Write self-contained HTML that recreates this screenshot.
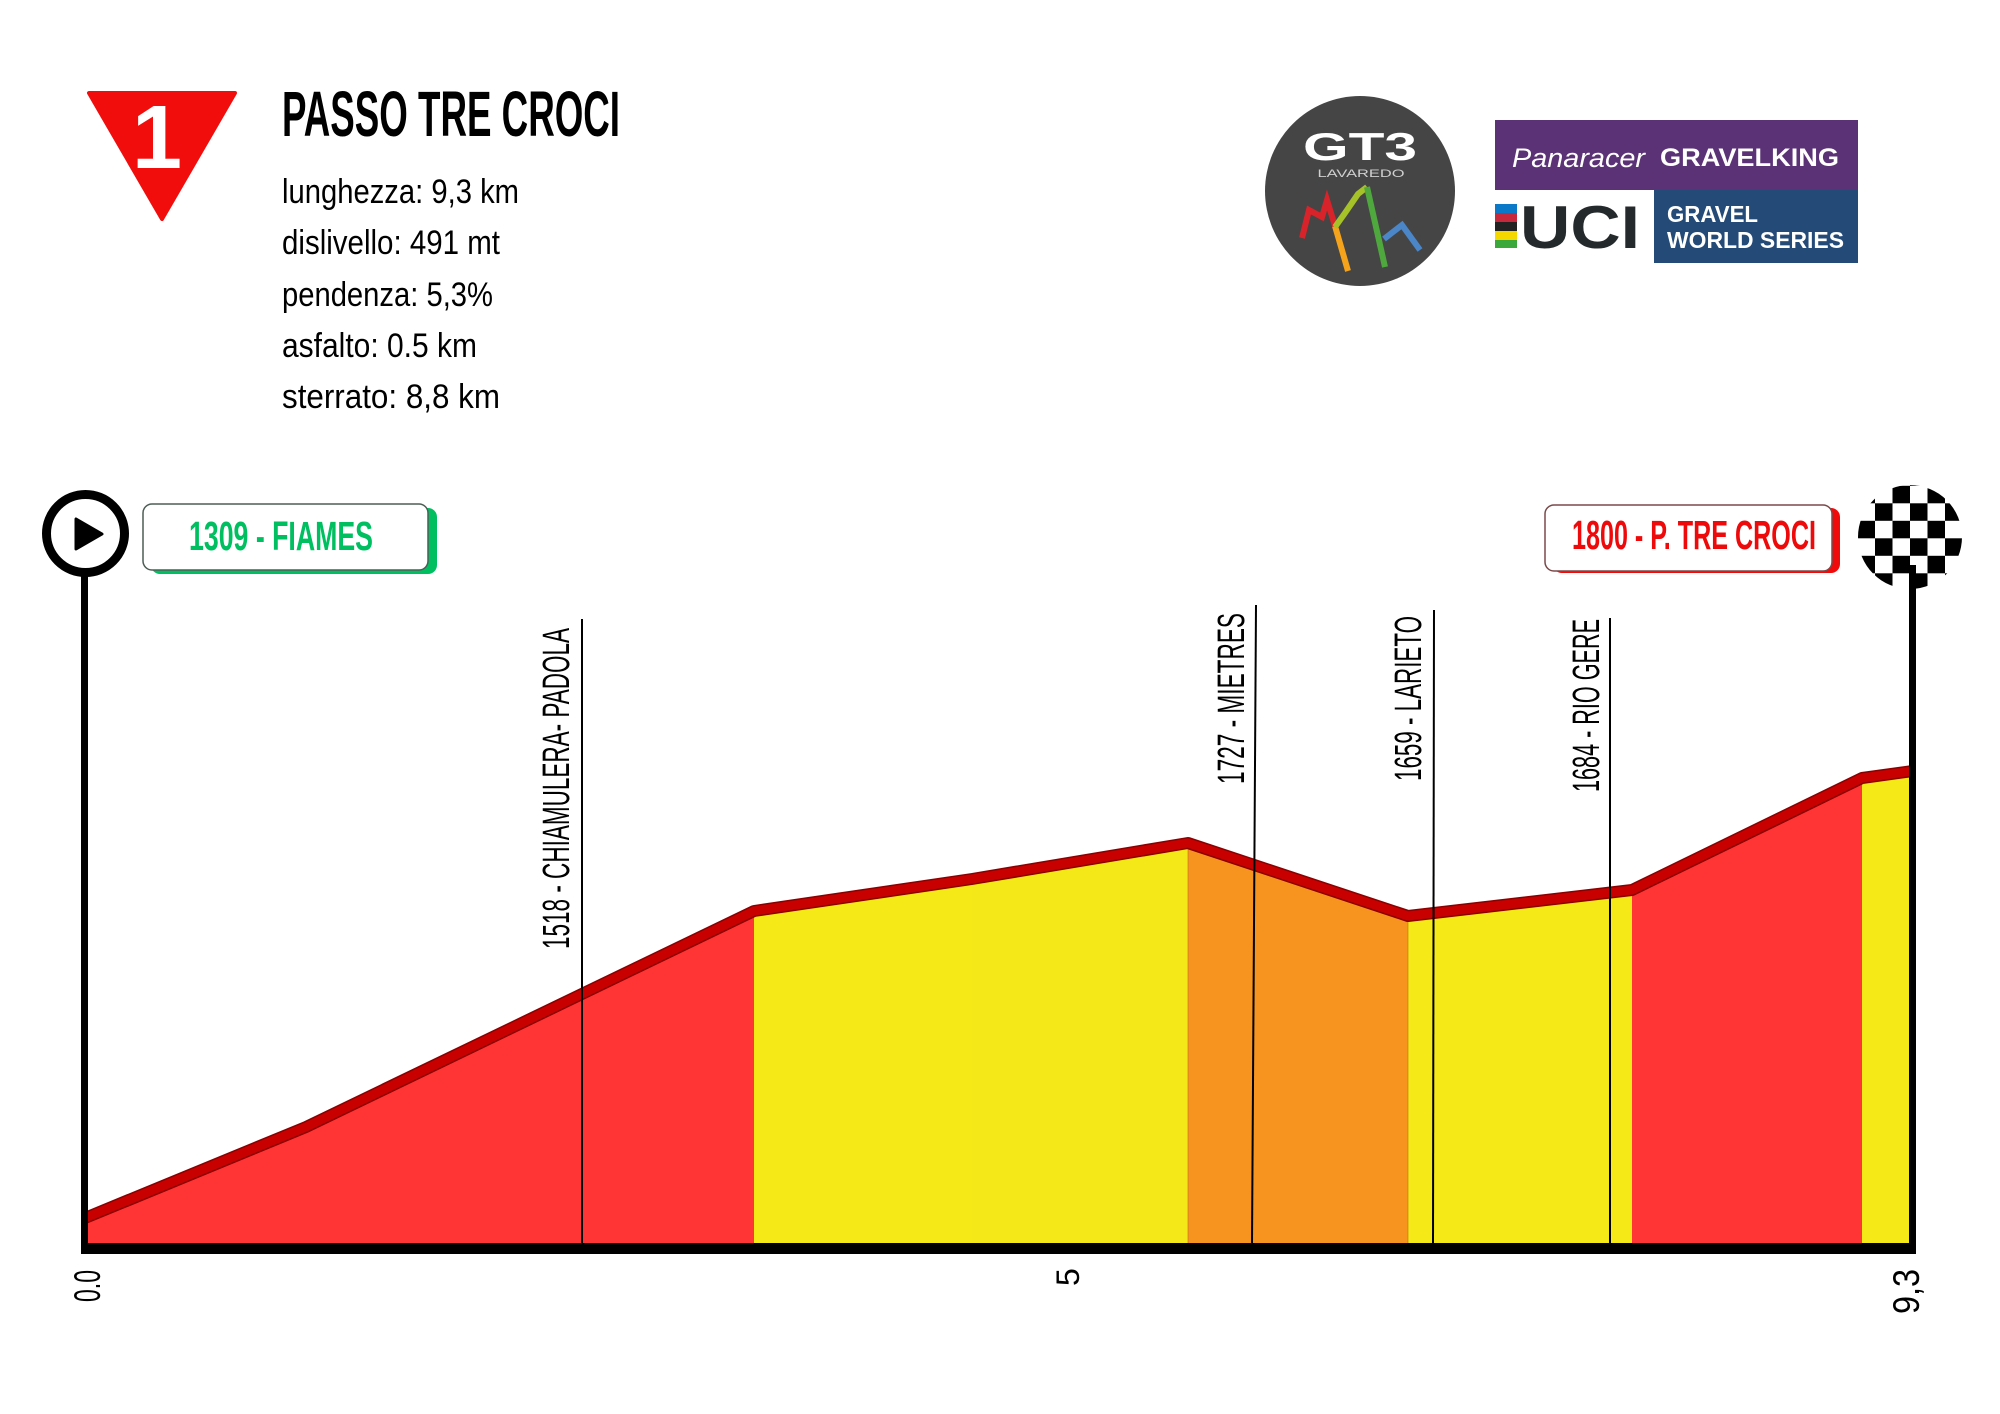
<!DOCTYPE html>
<html>
<head>
<meta charset="utf-8">
<style>
html,body{margin:0;padding:0;background:#fff;}
svg{display:block;}
text{font-family:"Liberation Sans Narrow","Liberation Sans",sans-serif;}
</style>
</head>
<body>
<svg width="2000" height="1414" viewBox="0 0 2000 1414" xmlns="http://www.w3.org/2000/svg">
<defs>
  <pattern id="chk" patternUnits="userSpaceOnUse" x="1875" y="503.3" width="35" height="35">
    <rect x="0" y="0" width="35" height="35" fill="#fff"/>
    <rect x="0" y="0" width="17.5" height="17.5" fill="#000"/>
    <rect x="17.5" y="17.5" width="17.5" height="17.5" fill="#000"/>
  </pattern>
  <clipPath id="cc"><circle cx="1910" cy="537" r="52"/></clipPath>
</defs>

<!-- Title block -->
<polygon points="89,93 235,93 162,219" fill="#f20d0d" stroke="#f20d0d" stroke-width="4" stroke-linejoin="round"/>
<text x="157" y="168" font-size="90" font-weight="bold" fill="#fff" text-anchor="middle" style="font-family:'Liberation Sans',sans-serif">1</text>

<text x="282" y="136" font-size="64" font-weight="bold" fill="#000" textLength="338" lengthAdjust="spacingAndGlyphs">PASSO TRE CROCI</text>

<g font-size="34" fill="#000">
  <text x="282" y="203" textLength="237" lengthAdjust="spacingAndGlyphs">lunghezza: 9,3 km</text>
  <text x="282" y="254" textLength="218" lengthAdjust="spacingAndGlyphs">dislivello: 491 mt</text>
  <text x="282" y="306" textLength="211" lengthAdjust="spacingAndGlyphs">pendenza: 5,3%</text>
  <text x="282" y="357" textLength="195" lengthAdjust="spacingAndGlyphs">asfalto: 0.5 km</text>
  <text x="282" y="408" textLength="218" lengthAdjust="spacingAndGlyphs">sterrato: 8,8 km</text>
</g>

<!-- GT3 logo -->
<circle cx="1360" cy="191" r="95" fill="#454545"/>
<text x="1360" y="160" font-size="39" font-weight="bold" fill="#fff" text-anchor="middle" textLength="114" lengthAdjust="spacingAndGlyphs" style="font-family:'Liberation Sans',sans-serif">GT3</text>
<text x="1361" y="177" font-size="11" fill="#cfcfcf" text-anchor="middle" textLength="87" lengthAdjust="spacingAndGlyphs" style="font-family:'Liberation Sans',sans-serif">LAVAREDO</text>
<g fill="none" stroke-width="6" stroke-linejoin="miter" stroke-linecap="butt">
  <polyline points="1302,238 1309,210 1322,217 1327,200 1335,226" stroke="#d8232a"/>
  <polyline points="1335,226 1348,271" stroke="#f5a31a"/>
  <polyline points="1335,227 1345,213 1358,194 1367,187" stroke="#a6c229"/>
  <polyline points="1367,187 1385,267" stroke="#4fa83d"/>
  <polyline points="1384,239 1402,225 1420,250" stroke="#4a86c8"/>
</g>

<!-- Panaracer / UCI logo -->
<rect x="1495" y="120" width="363" height="70" fill="#5b3276"/>
<text x="1512" y="167" font-size="27" fill="#fff" textLength="133" lengthAdjust="spacingAndGlyphs" style="font-family:'Liberation Sans',sans-serif;font-style:italic">Panaracer</text>
<text x="1660" y="166" font-size="25" font-weight="bold" fill="#fff" textLength="179" lengthAdjust="spacingAndGlyphs" style="font-family:'Liberation Sans',sans-serif">GRAVELKING</text>
<rect x="1654" y="190" width="204" height="73" fill="#244a78"/>
<text x="1667" y="222" font-size="23" font-weight="bold" fill="#fff" textLength="91" lengthAdjust="spacingAndGlyphs" style="font-family:'Liberation Sans',sans-serif">GRAVEL</text>
<text x="1667" y="248" font-size="23" font-weight="bold" fill="#fff" textLength="177" lengthAdjust="spacingAndGlyphs" style="font-family:'Liberation Sans',sans-serif">WORLD SERIES</text>
<rect x="1495" y="204" width="22" height="9" fill="#0a7ac8"/>
<rect x="1495" y="213" width="22" height="9" fill="#c8283c"/>
<rect x="1495" y="222" width="22" height="9" fill="#222"/>
<rect x="1495" y="231" width="22" height="9" fill="#f5d800"/>
<rect x="1495" y="240" width="22" height="8" fill="#3aa83a"/>
<text x="1520" y="248" font-size="60" font-weight="bold" fill="#24292b" textLength="120" lengthAdjust="spacingAndGlyphs" style="font-family:'Liberation Sans',sans-serif">UCI</text>

<!-- Profile fills -->
<polygon points="85,1218 306,1127 754,911 754,1243 85,1243" fill="#ff3434"/>
<polygon points="754,911 972,879 972,1243 754,1243" fill="#f5e917"/>
<polygon points="972,879 1188,843 1188,1243 972,1243" fill="#f4e818"/>
<polygon points="1188,843 1408,916 1408,1243 1188,1243" fill="#f7941f"/>
<polygon points="1408,916 1632,890 1632,1243 1408,1243" fill="#f5e917"/>
<polygon points="1632,890 1862,778 1862,1243 1632,1243" fill="#ff3434"/>
<polygon points="1862,778 1913,771 1913,1243 1862,1243" fill="#f5e917"/>
<g stroke="#c0701a" stroke-width="1" opacity="0.6">
  <line x1="1188" y1="843" x2="1188" y2="1243"/>
  <line x1="1408" y1="916" x2="1408" y2="1243"/>
</g>

<!-- Profile line -->
<polyline points="85,1218 306,1127 754,911 972,879 1188,843 1408,916 1632,890 1862,778 1913,771" fill="none" stroke="#8a0000" stroke-width="12" stroke-linejoin="round"/>
<polyline points="85,1218 306,1127 754,911 972,879 1188,843 1408,916 1632,890 1862,778 1913,771" fill="none" stroke="#c80000" stroke-width="9" stroke-linejoin="round"/>

<!-- Marker lines -->
<g stroke="#000" stroke-width="2">
  <line x1="582" y1="619" x2="582" y2="1243"/>
  <line x1="1256" y1="605" x2="1252" y2="1243"/>
  <line x1="1434" y1="610" x2="1433" y2="1243"/>
  <line x1="1610" y1="618" x2="1610" y2="1243"/>
</g>

<!-- Marker labels -->
<g font-size="38" fill="#000">
  <text transform="translate(569,949) rotate(-90)" textLength="321" lengthAdjust="spacingAndGlyphs">1518 - CHIAMULERA- PADOLA</text>
  <text transform="translate(1244,784) rotate(-90)" textLength="171" lengthAdjust="spacingAndGlyphs">1727 - MIETRES</text>
  <text transform="translate(1421,781) rotate(-90)" textLength="165" lengthAdjust="spacingAndGlyphs">1659 - LARIETO</text>
  <text transform="translate(1599,792) rotate(-90)" textLength="173" lengthAdjust="spacingAndGlyphs">1684 - RIO GERE</text>
</g>

<!-- Axes -->
<rect x="81" y="575" width="7" height="679" fill="#000"/>
<rect x="81" y="1243" width="1835" height="11" fill="#000"/>
<rect x="1909" y="565" width="7" height="689" fill="#000"/>

<!-- X labels -->
<g font-size="37" fill="#000">
  <text transform="translate(100,1302) rotate(-90)" textLength="32" lengthAdjust="spacingAndGlyphs">0.0</text>
  <text transform="translate(1079,1286) rotate(-90)" font-size="32">5</text>
  <text transform="translate(1919,1314) rotate(-90)" textLength="45" lengthAdjust="spacingAndGlyphs">9,3</text>
</g>

<!-- Start icon -->
<circle cx="85.5" cy="533.5" r="39" fill="#fff" stroke="#000" stroke-width="9"/>
<polygon points="76,519 76,549 102,534" fill="#000" stroke="#000" stroke-width="3" stroke-linejoin="round"/>

<!-- Finish icon -->
<circle cx="1910" cy="537" r="52" fill="url(#chk)"/>
<rect x="1909" y="565" width="7" height="30" fill="#000"/>

<!-- Start label -->
<rect x="151" y="508" width="286" height="66" rx="9" fill="#00bf60"/>
<rect x="143" y="504" width="285" height="66" rx="9" fill="#fff" stroke="#4d5e55" stroke-width="1.5"/>
<text x="189" y="550" font-size="41" font-weight="bold" fill="#00bf60" textLength="184" lengthAdjust="spacingAndGlyphs">1309 - FIAMES</text>

<!-- Finish label -->
<rect x="1553" y="508" width="287" height="65" rx="9" fill="#f00a0a"/>
<rect x="1545" y="505" width="287" height="66" rx="9" fill="#fff" stroke="#7a4a4a" stroke-width="1.5"/>
<text x="1572" y="549" font-size="41" font-weight="bold" fill="#ee0a0a" textLength="244" lengthAdjust="spacingAndGlyphs">1800 - P. TRE CROCI</text>
</svg>
</body>
</html>
